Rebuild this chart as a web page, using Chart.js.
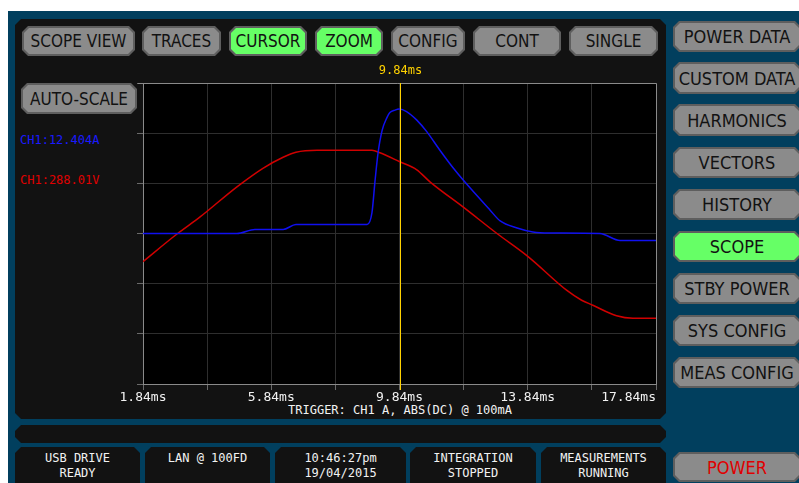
<!DOCTYPE html>
<html>
<head>
<meta charset="utf-8">
<script src="https://cdn.jsdelivr.net/npm/chart.js@4.4.1/dist/chart.umd.min.js"></script>
<style>
  body { margin: 0; background: #fff; width: 799px; height: 483px; overflow: hidden; position: relative;
         font-family: "DejaVu Sans Condensed", "DejaVu Sans", sans-serif; }
  .abs { position: absolute; }
  .frame { left: 8px; top: 11px; width: 791px; height: 472px; background: #013f5e; }
  .cut { clip-path: polygon(6px 0, calc(100% - 6px) 0, 100% 6px, 100% calc(100% - 6px), calc(100% - 6px) 100%, 6px 100%, 0 calc(100% - 6px), 0 6px); }
  .panel { background: #121212; }
  .btn { position: absolute; background: #5e5e5e; }
  .btn > span { position: absolute; left: 2px; top: 2px; right: 2px; bottom: 2px; background: #8b8b8b;
                display: flex; align-items: center; justify-content: center; color: #121212; font-size: 17px;
                clip-path: polygon(5px 0, calc(100% - 5px) 0, 100% 5px, 100% calc(100% - 5px), calc(100% - 5px) 100%, 5px 100%, 0 calc(100% - 5px), 0 5px); }
  .btn.on > span { background: #66ff66; }
  .side > span { font-size: 18px; }
  .mono { font-family: "DejaVu Sans Mono", monospace; font-size: 12px; }
  .stat { color: #f2f2f2; text-align: center; line-height: 15px; padding-top: 4px; box-sizing: border-box; }
  canvas { position: absolute; left: 120px; top: 60px; }
</style>
</head>
<body>
<div class="abs frame"></div>

<!-- main scope panel -->
<div class="abs cut panel" style="left:15px;top:19px;width:651px;height:400px"></div>
<div class="abs cut panel" style="left:15px;top:425px;width:651px;height:18px"></div>

<!-- top buttons -->
<div class="btn cut" style="left:22px;top:26px;width:113px;height:30px"><span>SCOPE VIEW</span></div>
<div class="btn cut" style="left:142px;top:26px;width:79px;height:30px"><span>TRACES</span></div>
<div class="btn cut on" style="left:229px;top:26px;width:78px;height:30px"><span>CURSOR</span></div>
<div class="btn cut on" style="left:315px;top:26px;width:68px;height:30px"><span>ZOOM</span></div>
<div class="btn cut" style="left:391px;top:26px;width:74px;height:30px"><span>CONFIG</span></div>
<div class="btn cut" style="left:473px;top:26px;width:88px;height:30px"><span>CONT</span></div>
<div class="btn cut" style="left:569px;top:26px;width:89px;height:30px"><span>SINGLE</span></div>
<div class="btn cut" style="left:21px;top:83px;width:116px;height:31px"><span>AUTO-SCALE</span></div>

<!-- channel readouts -->
<div class="abs mono" style="left:20px;top:133px;color:#1a1aff">CH1:12.404A</div>
<div class="abs mono" style="left:20px;top:173px;color:#e00000">CH1:288.01V</div>

<!-- side buttons -->
<div class="btn cut side" style="left:673px;top:21px;width:128px;height:31px"><span>POWER DATA</span></div>
<div class="btn cut side" style="left:673px;top:62px;width:128px;height:32px"><span>CUSTOM DATA</span></div>
<div class="btn cut side" style="left:673px;top:104px;width:128px;height:32px"><span>HARMONICS</span></div>
<div class="btn cut side" style="left:673px;top:147px;width:128px;height:31px"><span>VECTORS</span></div>
<div class="btn cut side" style="left:673px;top:189px;width:128px;height:31px"><span>HISTORY</span></div>
<div class="btn cut side on" style="left:673px;top:231px;width:128px;height:31px"><span>SCOPE</span></div>
<div class="btn cut side" style="left:673px;top:273px;width:128px;height:31px"><span>STBY POWER</span></div>
<div class="btn cut side" style="left:673px;top:315px;width:128px;height:31px"><span>SYS CONFIG</span></div>
<div class="btn cut side" style="left:673px;top:357px;width:128px;height:31px"><span>MEAS CONFIG</span></div>
<div class="btn cut side" style="left:673px;top:452px;width:128px;height:30px"><span style="color:#e00000">POWER</span></div>

<!-- status boxes -->
<div class="abs cut panel mono stat" style="left:15px;top:447px;width:125px;height:44px">USB DRIVE<br>READY</div>
<div class="abs cut panel mono stat" style="left:145px;top:447px;width:125px;height:44px">LAN @ 100FD</div>
<div class="abs cut panel mono stat" style="left:275px;top:447px;width:131px;height:44px">10:46:27pm<br>19/04/2015</div>
<div class="abs cut panel mono stat" style="left:410px;top:447px;width:126px;height:44px">INTEGRATION<br>STOPPED</div>
<div class="abs cut panel mono stat" style="left:541px;top:447px;width:125px;height:44px">MEASUREMENTS<br>RUNNING</div>

<div class="abs mono" style="left:250px;width:300px;top:403px;text-align:center;color:#f2f2f2">TRIGGER: CH1 A, ABS(DC) @ 100mA</div>

<canvas id="scope" width="560" height="360"></canvas>

<script>
// time axis (ms), grid every 2 ms
const gridX = [1.84, 3.84, 5.84, 7.84, 9.84, 11.84, 13.84, 15.84, 17.84];
const tickLabels = ['1.84ms', '5.84ms', '9.84ms', '13.84ms', '17.84ms'];
const tickValues = [1.84, 5.84, 9.84, 13.84, 17.84];
const cursorMs = 9.84;
const cursorLabel = '9.84ms';

// CH1 current trace (vertical divisions)
const ampX = [1.84, 4.77, 5.33, 6.21, 6.61, 8.83, 8.98, 9.08, 9.17, 9.30, 9.44, 9.54, 9.70, 9.83,
              10.06, 10.38, 10.69, 11.10, 11.51, 11.82, 12.66, 12.98, 13.51, 14.00, 14.53, 16.09, 16.72, 17.84];
const ampY = [3.00, 3.00, 3.08, 3.08, 3.18, 3.18, 3.41, 4.07, 4.60, 5.06, 5.30, 5.41, 5.46, 5.48,
              5.43, 5.26, 5.03, 4.66, 4.31, 4.07, 3.47, 3.25, 3.11, 3.03, 3.01, 3.00, 2.86, 2.86];

// CH1 voltage trace (vertical divisions)
const voltX = [1.84, 2.90, 3.62, 4.77, 5.58, 6.21, 6.61, 7.27, 8.98, 9.23, 9.85, 10.38, 10.79,
               11.82, 12.88, 13.85, 15.05, 15.52, 15.87, 16.61, 17.12, 17.84];
const voltY = [2.44, 2.99, 3.33, 3.93, 4.30, 4.52, 4.62, 4.66, 4.66, 4.61, 4.43, 4.27, 4.03,
               3.53, 3.00, 2.54, 1.87, 1.67, 1.57, 1.36, 1.31, 1.31];

const toPoints = (xs, ys) => xs.map((x, i) => ({ x: x, y: ys[i] }));

const scopeDecor = {
    id: 'scopeDecor',
    beforeDraw(chart) {
        const { ctx, chartArea: a } = chart;
        ctx.save();
        ctx.fillStyle = '#000';
        ctx.fillRect(a.left, a.top, a.right - a.left, a.bottom - a.top);
        ctx.restore();
    },
    afterDraw(chart) {
        const { ctx, chartArea: a } = chart;
        const xs = chart.scales.x;
        ctx.save();
        // top / right frame
        ctx.strokeStyle = '#8a8a8a';
        ctx.lineWidth = 1;
        ctx.beginPath();
        ctx.moveTo(a.left - 5, a.top + 0.5);
        ctx.lineTo(a.right + 0.5, a.top + 0.5);
        ctx.lineTo(a.right + 0.5, a.bottom);
        ctx.stroke();
        // cursor
        const cx = Math.round(xs.getPixelForValue(cursorMs)) + 0.5;
        ctx.strokeStyle = '#ffd200';
        ctx.beginPath();
        ctx.moveTo(cx, a.top);
        ctx.lineTo(cx, a.bottom + 6);
        ctx.stroke();
        ctx.fillStyle = '#ffd200';
        ctx.font = '12px "DejaVu Sans Mono"';
        ctx.textAlign = 'center';
        ctx.textBaseline = 'middle';
        ctx.fillText(cursorLabel, cx, a.top - 12);
        // time labels
        ctx.fillStyle = '#f2f2f2';
        ctx.font = '13px "DejaVu Sans Mono"';
        tickValues.forEach((v, i) => {
            ctx.textAlign = i === tickValues.length - 1 ? 'right' : 'center';
            ctx.fillText(tickLabels[i], xs.getPixelForValue(v), a.bottom + 14);
        });
        ctx.restore();
    }
};

new Chart(document.getElementById('scope'), {
    type: 'line',
    data: {
        datasets: [
            {
                label: 'CH1 A',
                data: toPoints(ampX, ampY),
                borderColor: '#1010f0',
                borderWidth: 1.5,
                pointRadius: 0,
                cubicInterpolationMode: 'monotone'
            },
            {
                label: 'CH1 V',
                data: toPoints(voltX, voltY),
                borderColor: '#d00000',
                borderWidth: 1.5,
                pointRadius: 0,
                cubicInterpolationMode: 'monotone'
            }
        ]
    },
    options: {
        responsive: false,
        animation: false,
        devicePixelRatio: 1,
        layout: { padding: { left: 17, top: 23, right: 24, bottom: 30 } },
        plugins: { legend: { display: false }, tooltip: { enabled: false } },
        scales: {
            x: {
                type: 'linear',
                min: 1.84,
                max: 17.84,
                afterBuildTicks: (scale) => { scale.ticks = gridX.map(v => ({ value: v })); },
                ticks: { display: false },
                grid: { color: '#2e2e2e', tickColor: '#6a6a6a', tickLength: 6 },
                border: { color: '#8a8a8a' }
            },
            y: {
                min: 0,
                max: 6,
                ticks: { display: false, stepSize: 1 },
                grid: { color: '#2e2e2e', tickColor: '#6a6a6a', tickLength: 6 },
                border: { color: '#8a8a8a' }
            }
        }
    },
    plugins: [scopeDecor]
});
</script>
</body>
</html>
